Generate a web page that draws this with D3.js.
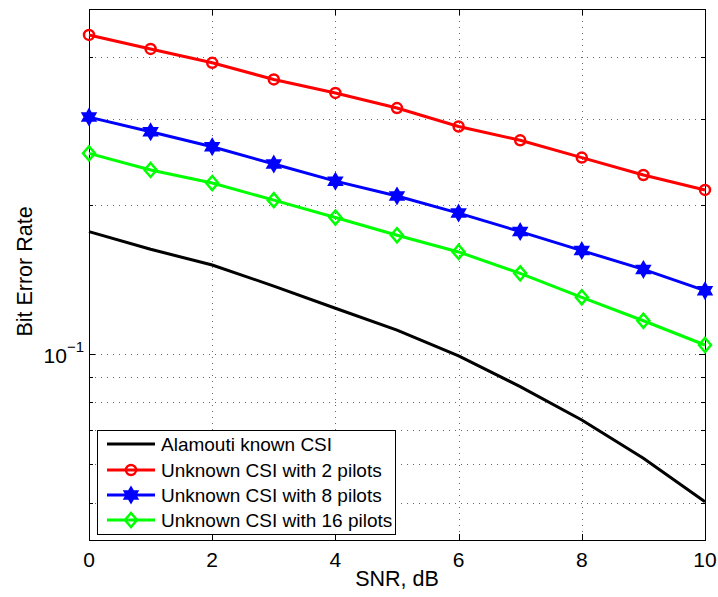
<!DOCTYPE html>
<html>
<head>
<meta charset="utf-8">
<script src="https://cdn.jsdelivr.net/npm/d3@7"></script>
<style>
  body { margin: 0; background: #fff; }
  text { font-family: "Liberation Sans", Arial, sans-serif; fill: #000; }
</style>
</head>
<body>
<svg width="718" height="597"></svg>
<script>
// data
var snr = [0, 1, 2, 3, 4, 5, 6, 7, 8, 9, 10];
var berKnown = [0.177, 0.163, 0.1515, 0.1373, 0.1238, 0.1118, 0.0991, 0.0859, 0.0735, 0.0615, 0.0502];
var berPilot2 = [0.443, 0.415, 0.389, 0.360, 0.338, 0.315, 0.289, 0.271, 0.250, 0.2305, 0.215];
var berPilot8 = [0.302, 0.282, 0.263, 0.2426, 0.224, 0.209, 0.193, 0.177, 0.162, 0.1484, 0.1344];
var berPilot16 = [0.255, 0.236, 0.222, 0.205, 0.189, 0.174, 0.161, 0.1457, 0.1303, 0.1168, 0.1043];
var xTicks = [0, 2, 4, 6, 8, 10];
var yMinor = [0.05, 0.06, 0.07, 0.08, 0.09, 0.2, 0.3, 0.4, 0.5];
var legendNames = ["Alamouti known CSI", "Unknown CSI with 2 pilots", "Unknown CSI with 8 pilots", "Unknown CSI with 16 pilots"];

var series = [
  {name: legendNames[0], values: berKnown, color: "#000000", marker: "none"},
  {name: legendNames[1], values: berPilot2, color: "#ff0000", marker: "circle"},
  {name: legendNames[2], values: berPilot8, color: "#0000ff", marker: "hexagram"},
  {name: legendNames[3], values: berPilot16, color: "#00ff00", marker: "diamond"}
];

var svg = d3.select("svg");
var pLeft = 89, pRight = 705, pTop = 9, pBottom = 540;

var x = d3.scaleLinear().domain([0, 10]).range([pLeft, pRight]);
var y = d3.scaleLog().domain([0.042, 0.5]).range([pBottom, pTop]);

// grid
var grid = svg.append("g")
  .attr("stroke", "#666")
  .attr("stroke-width", 1)
  .attr("stroke-dasharray", "1,5");
grid.selectAll(".gx")
  .data(xTicks.filter(function(d){ return d > 0 && d < 10; }))
  .enter().append("line")
    .attr("x1", function(d){ return Math.round(x(d)) + 0.5; })
    .attr("x2", function(d){ return Math.round(x(d)) + 0.5; })
    .attr("y1", pTop).attr("y2", pBottom);
grid.selectAll(".gy")
  .data(yMinor.concat([0.1]).filter(function(d){ return d < 0.5; }))
  .enter().append("line")
    .attr("y1", function(d){ return Math.round(y(d)) + 0.5; })
    .attr("y2", function(d){ return Math.round(y(d)) + 0.5; })
    .attr("x1", pLeft).attr("x2", pRight);

// tick marks (inside, all four sides)
var ticks = svg.append("g").attr("stroke", "#000").attr("stroke-width", 1);
xTicks.forEach(function(d) {
  var px = Math.round(x(d)) + 0.5;
  ticks.append("line").attr("x1", px).attr("x2", px).attr("y1", pBottom).attr("y2", pBottom - 6);
  ticks.append("line").attr("x1", px).attr("x2", px).attr("y1", pTop).attr("y2", pTop + 6);
});
yMinor.concat([0.1]).forEach(function(d) {
  var py = Math.round(y(d)) + 0.5;
  var len = d === 0.1 ? 6 : 4;
  ticks.append("line").attr("x1", pLeft).attr("x2", pLeft + len).attr("y1", py).attr("y2", py);
  ticks.append("line").attr("x1", pRight).attr("x2", pRight - len).attr("y1", py).attr("y2", py);
});

// box
svg.append("rect")
  .attr("x", pLeft + 0.5).attr("y", pTop + 0.5)
  .attr("width", pRight - pLeft).attr("height", pBottom - pTop)
  .attr("fill", "none").attr("stroke", "#000").attr("stroke-width", 1);

// tick labels
svg.append("g").selectAll("text")
  .data(xTicks)
  .enter().append("text")
    .attr("x", function(d){ return x(d); })
    .attr("y", 567)
    .attr("text-anchor", "middle")
    .style("font-size", "21px")
    .text(function(d){ return d; });

var yl = svg.append("text")
  .attr("x", 84).attr("y", y(0.1) + 9)
  .attr("text-anchor", "end")
  .style("font-size", "21px");
yl.append("tspan").text("10");
yl.append("tspan").attr("dy", -11).style("font-size", "15px").text("\u22121");

// axis titles
svg.append("text")
  .attr("x", (pLeft + pRight) / 2).attr("y", 586)
  .attr("text-anchor", "middle")
  .style("font-size", "21.5px")
  .text("SNR, dB");
svg.append("text")
  .attr("transform", "translate(32," + ((pTop + pBottom) / 2 - 3) + ") rotate(-90)")
  .attr("text-anchor", "middle")
  .style("font-size", "21.5px")
  .text("Bit Error Rate");

// markers
function hexagram(R) {
  var pts = [];
  for (var i = 0; i < 12; i++) {
    var r = i % 2 === 0 ? R : R / Math.sqrt(3);
    var a = -Math.PI / 2 + i * Math.PI / 6;
    pts.push([r * Math.cos(a), r * Math.sin(a)]);
  }
  return "M" + pts.map(function(p){ return p[0].toFixed(2) + "," + p[1].toFixed(2); }).join("L") + "Z";
}
function drawMarker(g, type, color, cx, cy) {
  if (type === "circle") {
    g.append("circle").attr("cx", cx).attr("cy", cy).attr("r", 5)
      .attr("fill", "none").attr("stroke", color).attr("stroke-width", 2.5);
  } else if (type === "hexagram") {
    g.append("path").attr("d", hexagram(8)).attr("transform", "translate(" + cx + "," + cy + ")")
      .attr("fill", color).attr("stroke", color).attr("stroke-width", 1.5);
  } else if (type === "diamond") {
    g.append("path").attr("d", "M0,-7L6,0L0,7L-6,0Z").attr("transform", "translate(" + cx + "," + cy + ")")
      .attr("fill", "none").attr("stroke", color).attr("stroke-width", 2.5);
  }
}

var line = d3.line()
  .x(function(d, i){ return x(snr[i]); })
  .y(function(d){ return y(d); });

series.forEach(function(s) {
  var g = svg.append("g");
  g.append("path")
    .attr("d", line(s.values))
    .attr("fill", "none")
    .attr("stroke", s.color)
    .attr("stroke-width", 3);
  s.values.forEach(function(v, i) {
    drawMarker(g, s.marker, s.color, x(snr[i]), y(v));
  });
});

// legend
var lg = svg.append("g");
lg.append("rect")
  .attr("x", 97.5).attr("y", 430.5).attr("width", 298).attr("height", 104)
  .attr("fill", "#fff").attr("stroke", "#000").attr("stroke-width", 1);
var rowY = [444, 470, 495, 520];
series.forEach(function(s, i) {
  lg.append("line")
    .attr("x1", 107).attr("x2", 155).attr("y1", rowY[i]).attr("y2", rowY[i])
    .attr("stroke", s.color).attr("stroke-width", 3);
  drawMarker(lg, s.marker, s.color, 131, rowY[i]);
  lg.append("text")
    .attr("x", 161).attr("y", rowY[i] + 7)
    .style("font-size", "19px")
    .text(s.name);
});
</script>
</body>
</html>
